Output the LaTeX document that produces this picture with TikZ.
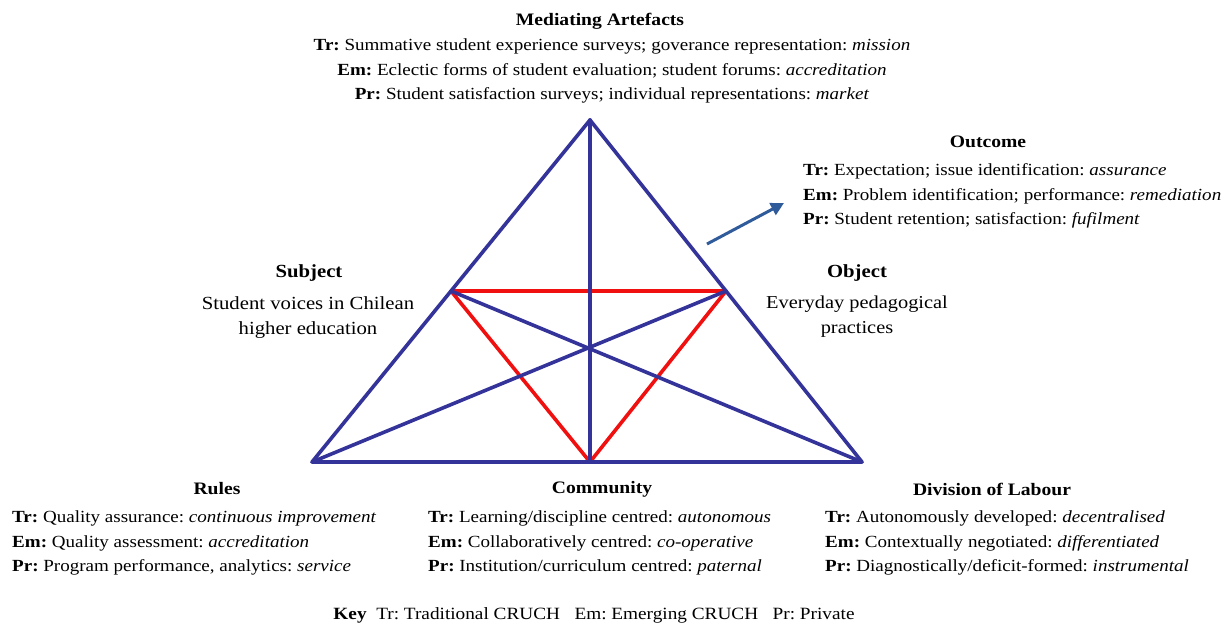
\documentclass[tikz,border=0pt]{standalone}
\usepackage{fontspec}
\setmainfont{Liberation Serif}[FakeStretch=1.12]
\usetikzlibrary{arrows.meta}
\definecolor{triblue}{HTML}{33339A}
\definecolor{trired}{HTML}{F01010}
\definecolor{arrblue}{HTML}{2F5B9B}
\begin{document}
\frenchspacing
\begin{tikzpicture}[x=1pt,y=-1pt,
  body/.style={font=\fontsize{17}{24.5}\selectfont, inner sep=0pt},
  ttl/.style={font=\fontsize{17.5}{24.5}\selectfont\bfseries, inner sep=0pt},
  blueline/.style={draw=triblue, line width=3.6pt, line join=round, line cap=round},
  redline/.style={draw=trired, line width=3.6pt, line join=round, line cap=round},
  outarrow/.style={draw=arrblue, line width=3pt, -{Triangle[length=13pt,width=13pt]}}]
\useasboundingbox (0,0) rectangle (1228,627);
% vertices
\coordinate (A) at (590,120);
\coordinate (BL) at (312,462);
\coordinate (BR) at (862,462);
\coordinate (ML) at (451,291);
\coordinate (MR) at (726,291);
\coordinate (MB) at (590,462);
% red inner triangle
\draw[redline] (ML) -- (MR) -- (MB) -- cycle;
% blue lines
\draw[blueline] (A) -- (BL) -- (BR) -- cycle;
\draw[blueline] (A) -- (MB);
\draw[blueline] (BL) -- (MR);
\draw[blueline] (BR) -- (ML);
% arrow
\coordinate (arrs) at (707,244);
\coordinate (arre) at (784,203);
\draw[outarrow] (arrs) -- (arre);
% Mediating artefacts
\node[ttl] (ma) at (600,21) {Mediating Artefacts};
\node[body, align=center, anchor=north] (matext) at (612,39) {\textbf{Tr:} Summative student experience surveys; goverance representation: \textit{mission}\\
\textbf{Em:} Eclectic forms of student evaluation; student forums: \textit{accreditation}\\
\textbf{Pr:} Student satisfaction surveys; individual representations: \textit{market}};
% Outcome
\node[ttl] (oc) at (988,142) {Outcome};
\node[body, align=left, anchor=west] (octext) at (803,196) {\textbf{Tr:} Expectation; issue identification: \textit{assurance}\\
\textbf{Em:} Problem identification; performance: \textit{remediation}\\
\textbf{Pr:} Student retention; satisfaction: \textit{fufilment}};
% Subject
\node[ttl, font=\fontsize{18.5}{24.5}\selectfont\bfseries] (sj) at (309,273) {Subject};
\node[body, align=center, font=\fontsize{18.5}{25}\selectfont] (sjtext) at (308,318) {Student voices in Chilean\\higher education};
% Object
\node[ttl, font=\fontsize{18.5}{24.5}\selectfont\bfseries] (ob) at (857,273) {Object};
\node[body, align=center, font=\fontsize{18.2}{25}\selectfont] (obtext) at (857,317) {Everyday pedagogical\\practices};
% Rules
\node[ttl] (ru) at (217,489) {Rules};
\node[body, align=left, anchor=west] (rutext) at (12,543) {\textbf{Tr:} Quality assurance: \textit{continuous improvement}\\
\textbf{Em:} Quality assessment: \textit{accreditation}\\
\textbf{Pr:} Program performance, analytics: \textit{service}};
% Community
\node[ttl] (co) at (602,489) {Community};
\node[body, align=left, anchor=west] (cotext) at (428,543) {\textbf{Tr:} Learning/discipline centred: \textit{autonomous}\\
\textbf{Em:} Collaboratively centred: \textit{co-operative}\\
\textbf{Pr:} Institution/curriculum centred: \textit{paternal}};
% Division of labour
\node[ttl] (dl) at (992,489) {Division of Labour};
\node[body, align=left, anchor=west] (dltext) at (825,543) {\textbf{Tr:} Autonomously developed: \textit{decentralised}\\
\textbf{Em:} Contextually negotiated: \textit{differentiated}\\
\textbf{Pr:} Diagnostically/deficit-formed: \textit{instrumental}};
% Key
\node[body, font=\fontsize{17.2}{20}\selectfont] (key) at (594,615) {\textbf{Key}\ \ Tr: Traditional CRUCH\ \ \ Em: Emerging CRUCH\ \ \ Pr: Private};
\end{tikzpicture}
\end{document}
